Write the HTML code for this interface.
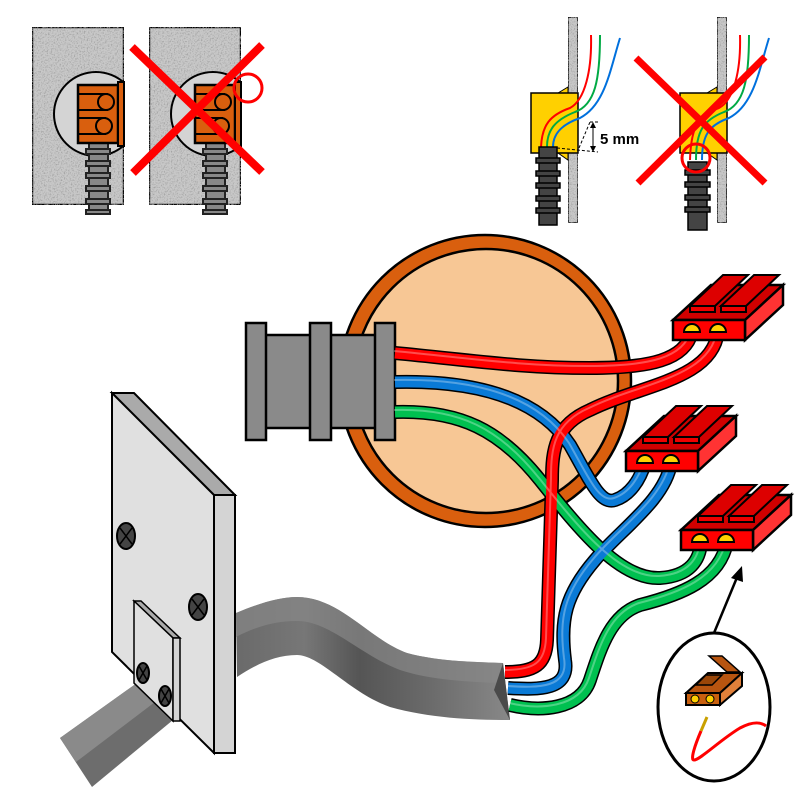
<!DOCTYPE html>
<html><head><meta charset="utf-8"><style>html,body{margin:0;padding:0;background:#fff}svg{display:block}</style></head>
<body>
<svg width="803" height="803" viewBox="0 0 803 803" xmlns="http://www.w3.org/2000/svg">
<defs>
<filter id="spk" x="0" y="0" width="1" height="1">
<feTurbulence type="fractalNoise" baseFrequency="0.7" numOctaves="2" result="n"/>
<feColorMatrix in="n" type="matrix" values="0 0 0 0 0.35 0 0 0 0 0.35 0 0 0 0 0.35 0 0 0 -3 1.6" result="d"/>
<feComposite in="d" in2="SourceGraphic" operator="in" result="m"/>
<feMerge><feMergeNode in="SourceGraphic"/><feMergeNode in="m"/></feMerge>
</filter>
<clipPath id="c1"><rect x="32" y="27" width="92" height="178"/></clipPath>
<linearGradient id="cab" x1="0" y1="0" x2="1" y2="0">
<stop offset="0" stop-color="#6a6a6a"/><stop offset="0.25" stop-color="#777"/><stop offset="0.45" stop-color="#555"/><stop offset="0.7" stop-color="#6a6a6a"/><stop offset="1" stop-color="#888"/>
</linearGradient>
<g id="conn">
<polygon points="0,0 72,0 110,-35 38,-35" fill="#d00000" stroke="#000" stroke-width="2.5"/>
<polygon points="72,0 110,-35 110,-15 72,20" fill="#ff3333" stroke="#000" stroke-width="2.5"/>
<rect x="0" y="0" width="72" height="20" fill="#ff0000" stroke="#000" stroke-width="2.5"/>
<polygon points="17,-14 42,-14 75,-45 50,-45" fill="#dd0000" stroke="#000" stroke-width="2"/>
<rect x="17" y="-14" width="25" height="6" fill="#ee0000" stroke="#000" stroke-width="2"/>
<polygon points="48,-14 73,-14 106,-45 81,-45" fill="#dd0000" stroke="#000" stroke-width="2"/>
<rect x="48" y="-14" width="25" height="6" fill="#ee0000" stroke="#000" stroke-width="2"/>
<path d="M11,12 A8,8 0 0 1 27,12 Z" fill="#ffd000" stroke="#000" stroke-width="2"/>
<path d="M37,12 A8,8 0 0 1 53,12 Z" fill="#ffd000" stroke="#000" stroke-width="2"/>
</g>
</defs>

<!-- TOP LEFT -->
<g stroke="#000" stroke-width="2.5">
<rect x="32" y="27" width="92" height="178" fill="#c8c8c8" filter="url(#spk)"/>
<rect x="149" y="27" width="92" height="178" fill="#c8c8c8" filter="url(#spk)"/>
</g>
<g id="tl">
<circle cx="96" cy="114" r="42" fill="#d4d4d4" stroke="#000" stroke-width="2" clip-path="url(#c1)"/>
<g fill="#888" stroke="#222" stroke-width="2">
<rect x="89" y="143" width="19" height="70"/>
<rect x="86" y="149" width="24" height="5"/><rect x="86" y="161" width="24" height="5"/><rect x="86" y="173" width="24" height="5"/><rect x="86" y="186" width="24" height="5"/><rect x="86" y="199" width="24" height="5"/><rect x="86" y="210" width="24" height="4"/>
</g>
<rect x="78" y="85" width="40" height="58" fill="#d95f0e" stroke="#000" stroke-width="2.5"/>
<rect x="118" y="82" width="6" height="64" fill="#d95f0e" stroke="#000" stroke-width="2"/>
<g stroke="#000" stroke-width="2" fill="none">
<line x1="78" y1="94" x2="108" y2="94"/><line x1="78" y1="110" x2="108" y2="110"/>
<line x1="78" y1="118" x2="106" y2="118"/><line x1="78" y1="134" x2="106" y2="134"/>
<circle cx="106" cy="102" r="8"/><circle cx="104" cy="126" r="8"/>
</g>
</g>
<use href="#tl" x="117" y="0"/>
<g stroke="#ff0000" stroke-width="8">
<line x1="132" y1="47" x2="262" y2="172"/><line x1="262" y1="45" x2="133" y2="173"/>
</g>
<circle cx="248" cy="88" r="14" fill="none" stroke="#ff0000" stroke-width="3"/>

<!-- TOP RIGHT -->
<g id="tr">
<rect x="568" y="17" width="10" height="206" fill="#c8c8c8" stroke="#000" stroke-width="1.5" filter="url(#spk)"/>
<polygon points="558,93 568,87 568,93" fill="#ffd000" stroke="#000" stroke-width="1"/>
<polygon points="558,153 568,160 568,153" fill="#ffd000" stroke="#000" stroke-width="1"/>
<rect x="531" y="93" width="47" height="60" fill="#ffd000" stroke="#000" stroke-width="1.5"/>
</g>
<use href="#tr" x="149" y="0"/>
<g fill="none" stroke-width="2">
<path d="M591,35 C592,70 585,100 570,108 C550,115 542,125 541,147" stroke="#ff0000"/>
<path d="M600,35 C600,80 595,105 575,112 C555,120 547,130 547,147" stroke="#00aa44"/>
<path d="M620,38 C610,70 605,105 580,118 C560,125 553,135 553,147" stroke="#0070dd"/>
<path d="M740,35 C741,70 734,100 719,108 C699,115 691,125 690,160" stroke="#ff0000"/>
<path d="M749,35 C749,80 744,105 724,112 C704,120 696,130 696,160" stroke="#00aa44"/>
<path d="M769,38 C759,70 754,105 729,118 C709,125 702,135 702,160" stroke="#0070dd"/>
</g>
<g fill="#444" stroke="#000" stroke-width="1.5">
<rect x="539" y="147" width="18" height="78"/>
<rect x="536" y="158" width="24" height="5"/><rect x="536" y="171" width="24" height="5"/><rect x="536" y="183" width="24" height="5"/><rect x="536" y="196" width="24" height="5"/><rect x="536" y="208" width="24" height="5"/>
<rect x="688" y="162" width="19" height="68"/>
<rect x="685" y="170" width="25" height="5"/><rect x="685" y="182" width="25" height="5"/><rect x="685" y="195" width="25" height="5"/><rect x="685" y="207" width="25" height="5"/>
</g>
<g stroke="#000" stroke-width="1" fill="none">
<line x1="557" y1="148" x2="598" y2="152" stroke-dasharray="3,2"/>
<line x1="579" y1="148" x2="590" y2="122" stroke-dasharray="3,2"/>
<line x1="590" y1="122" x2="600" y2="122" stroke-dasharray="3,2"/>
<line x1="593" y1="124" x2="593" y2="150"/>
</g>
<path d="M593,122 l-3,6 h6 Z M593,152 l-3,-6 h6 Z" fill="#000"/>
<text x="600" y="144" font-family="Liberation Sans, sans-serif" font-size="15" font-weight="bold">5 mm</text>
<g stroke="#ff0000" stroke-width="7">
<line x1="636" y1="58" x2="765" y2="183"/><line x1="765" y1="57" x2="638" y2="183"/>
</g>
<circle cx="696" cy="158" r="14" fill="none" stroke="#ff0000" stroke-width="3"/>

<!-- JUNCTION BOX -->
<circle cx="485" cy="381" r="146" fill="#d95f0e" stroke="#000" stroke-width="2.5"/>
<circle cx="486" cy="381" r="132" fill="#f7c795" stroke="#000" stroke-width="2.5"/>
<g fill="#8a8a8a" stroke="#000" stroke-width="2.5">
<rect x="264" y="335" width="112" height="93"/>
<rect x="246" y="323" width="20" height="117"/>
<rect x="310" y="323" width="21" height="117"/>
<rect x="375" y="323" width="20" height="117"/>
</g>

<!-- WALL PLATE -->
<polygon points="60,738 92,787 173,720 137,683" fill="#6d6d6d"/>
<polygon points="60,738 76,762 155,702 137,683" fill="#8a8a8a"/>
<polygon points="112,393 134,393 235,495 214,495" fill="#aaa" stroke="#000" stroke-width="2"/>
<polygon points="112,393 214,495 214,753 112,652" fill="#e0e0e0" stroke="#000" stroke-width="2"/>
<rect x="214" y="495" width="21" height="258" fill="#d4d4d4" stroke="#000" stroke-width="2"/>
<polygon points="134,601 141,601 180,638 173,638" fill="#aaa" stroke="#000" stroke-width="1.5"/>
<polygon points="134,601 173,638 173,721 134,683" fill="#e0e0e0" stroke="#000" stroke-width="1.5"/>
<rect x="173" y="638" width="7" height="83" fill="#d4d4d4" stroke="#000" stroke-width="1.5"/>
<g stroke="#000" stroke-width="2" fill="#444">
<ellipse cx="126" cy="536" rx="9" ry="13"/><ellipse cx="198" cy="607" rx="9" ry="13"/>
<ellipse cx="143" cy="673" rx="6" ry="10"/><ellipse cx="165" cy="696" rx="6" ry="10"/>
</g>
<g stroke="#000" stroke-width="1.5">
<path d="M120,528 l12,16 M132,528 l-12,16 M192,599 l12,16 M204,599 l-12,16 M139,666 l8,14 M147,666 l-8,14 M161,689 l8,14 M169,689 l-8,14"/>
</g>

<!-- MAIN CABLE -->
<path d="M236,613 C260,603 280,597 297,597 C340,597 370,640 407,653 C440,662 480,662 503,663 L510,720 C470,720 430,718 390,707 C350,693 320,655 297,655 C275,655 255,665 237,677 Z" fill="url(#cab)"/>
<path d="M236,613 C260,603 280,597 297,597 C340,597 370,640 407,653 C440,662 480,662 503,663 L500,683 C470,682 430,680 400,670 C360,655 330,621 297,621 C275,621 255,627 236,637 Z" fill="#888" opacity="0.7"/>
<polygon points="503,663 494,690 510,720" fill="#4a4a4a"/>

<!-- WIRES -->
<g fill="none" stroke-linecap="butt">
<g stroke="#000" stroke-width="14">
<path id="g1" d="M395,412 C460,410 500,430 540,480 C580,530 620,580 660,578 C690,576 700,560 701,542"/>
<path id="g2" d="M727,542 C720,580 680,595 640,605 C610,615 600,650 590,680 C580,710 540,712 510,705"/>
<path id="b1" d="M395,382 C480,380 540,400 570,445 C590,480 600,505 615,500 C630,495 640,480 645,463"/>
<path id="b2" d="M671,463 C665,500 620,530 595,560 C565,595 560,620 565,660 C570,690 540,690 508,688"/>
<path id="r1" d="M395,353 C470,360 520,368 590,368 C650,368 685,360 692,332"/>
<path id="r2" d="M718,332 C712,380 640,385 590,410 C555,425 552,450 552,480 L547,640 C546,665 535,672 505,672"/>
</g>
<g stroke="#00c050" stroke-width="11"><use href="#g1"/><use href="#g2"/></g>
<g stroke="#0a7ad6" stroke-width="11"><use href="#b1"/><use href="#b2"/></g>
<g stroke="#ff0000" stroke-width="11"><use href="#r1"/><use href="#r2"/></g>
<g stroke="#fff" stroke-width="2" opacity="0.3" transform="translate(-1,-2)"><use href="#g1"/><use href="#g2"/><use href="#b1"/><use href="#b2"/><use href="#r1"/><use href="#r2"/></g>
</g>

<!-- CONNECTORS -->
<use href="#conn" x="673" y="320"/>
<use href="#conn" x="626" y="451"/>
<use href="#conn" x="681" y="530"/>

<!-- INSET -->
<line x1="714" y1="633" x2="738" y2="575" stroke="#000" stroke-width="2.5"/>
<polygon points="742,566 731,578 743,582" fill="#000"/>
<ellipse cx="714" cy="707" rx="56" ry="74" fill="#fff" stroke="#000" stroke-width="3"/>
<polygon points="686,693 720,693 742,673 708,673" fill="#b85510" stroke="#000" stroke-width="2"/>
<polygon points="720,693 742,673 742,686 720,705" fill="#e0803a" stroke="#000" stroke-width="2"/>
<polygon points="709,656 722,656 740,672 727,672" fill="#b85510" stroke="#000" stroke-width="1.5"/>
<polygon points="696,685 712,685 722,675 706,675" fill="#9a4608" stroke="#000" stroke-width="1.5"/>
<rect x="686" y="693" width="34" height="12" fill="#c9600f" stroke="#000" stroke-width="2"/>
<circle cx="695" cy="699" r="4" fill="#ffd000" stroke="#000" stroke-width="1"/>
<circle cx="710" cy="699" r="4" fill="#ffd000" stroke="#000" stroke-width="1"/>
<path d="M707,717 L701,731" stroke="#c9a000" stroke-width="3" fill="none"/>
<path d="M701,731 C695,745 690,760 694,760 C700,760 720,740 740,728 C755,720 762,723 766,726" stroke="#ff0000" stroke-width="3" fill="none"/>
</svg>
</body></html>
